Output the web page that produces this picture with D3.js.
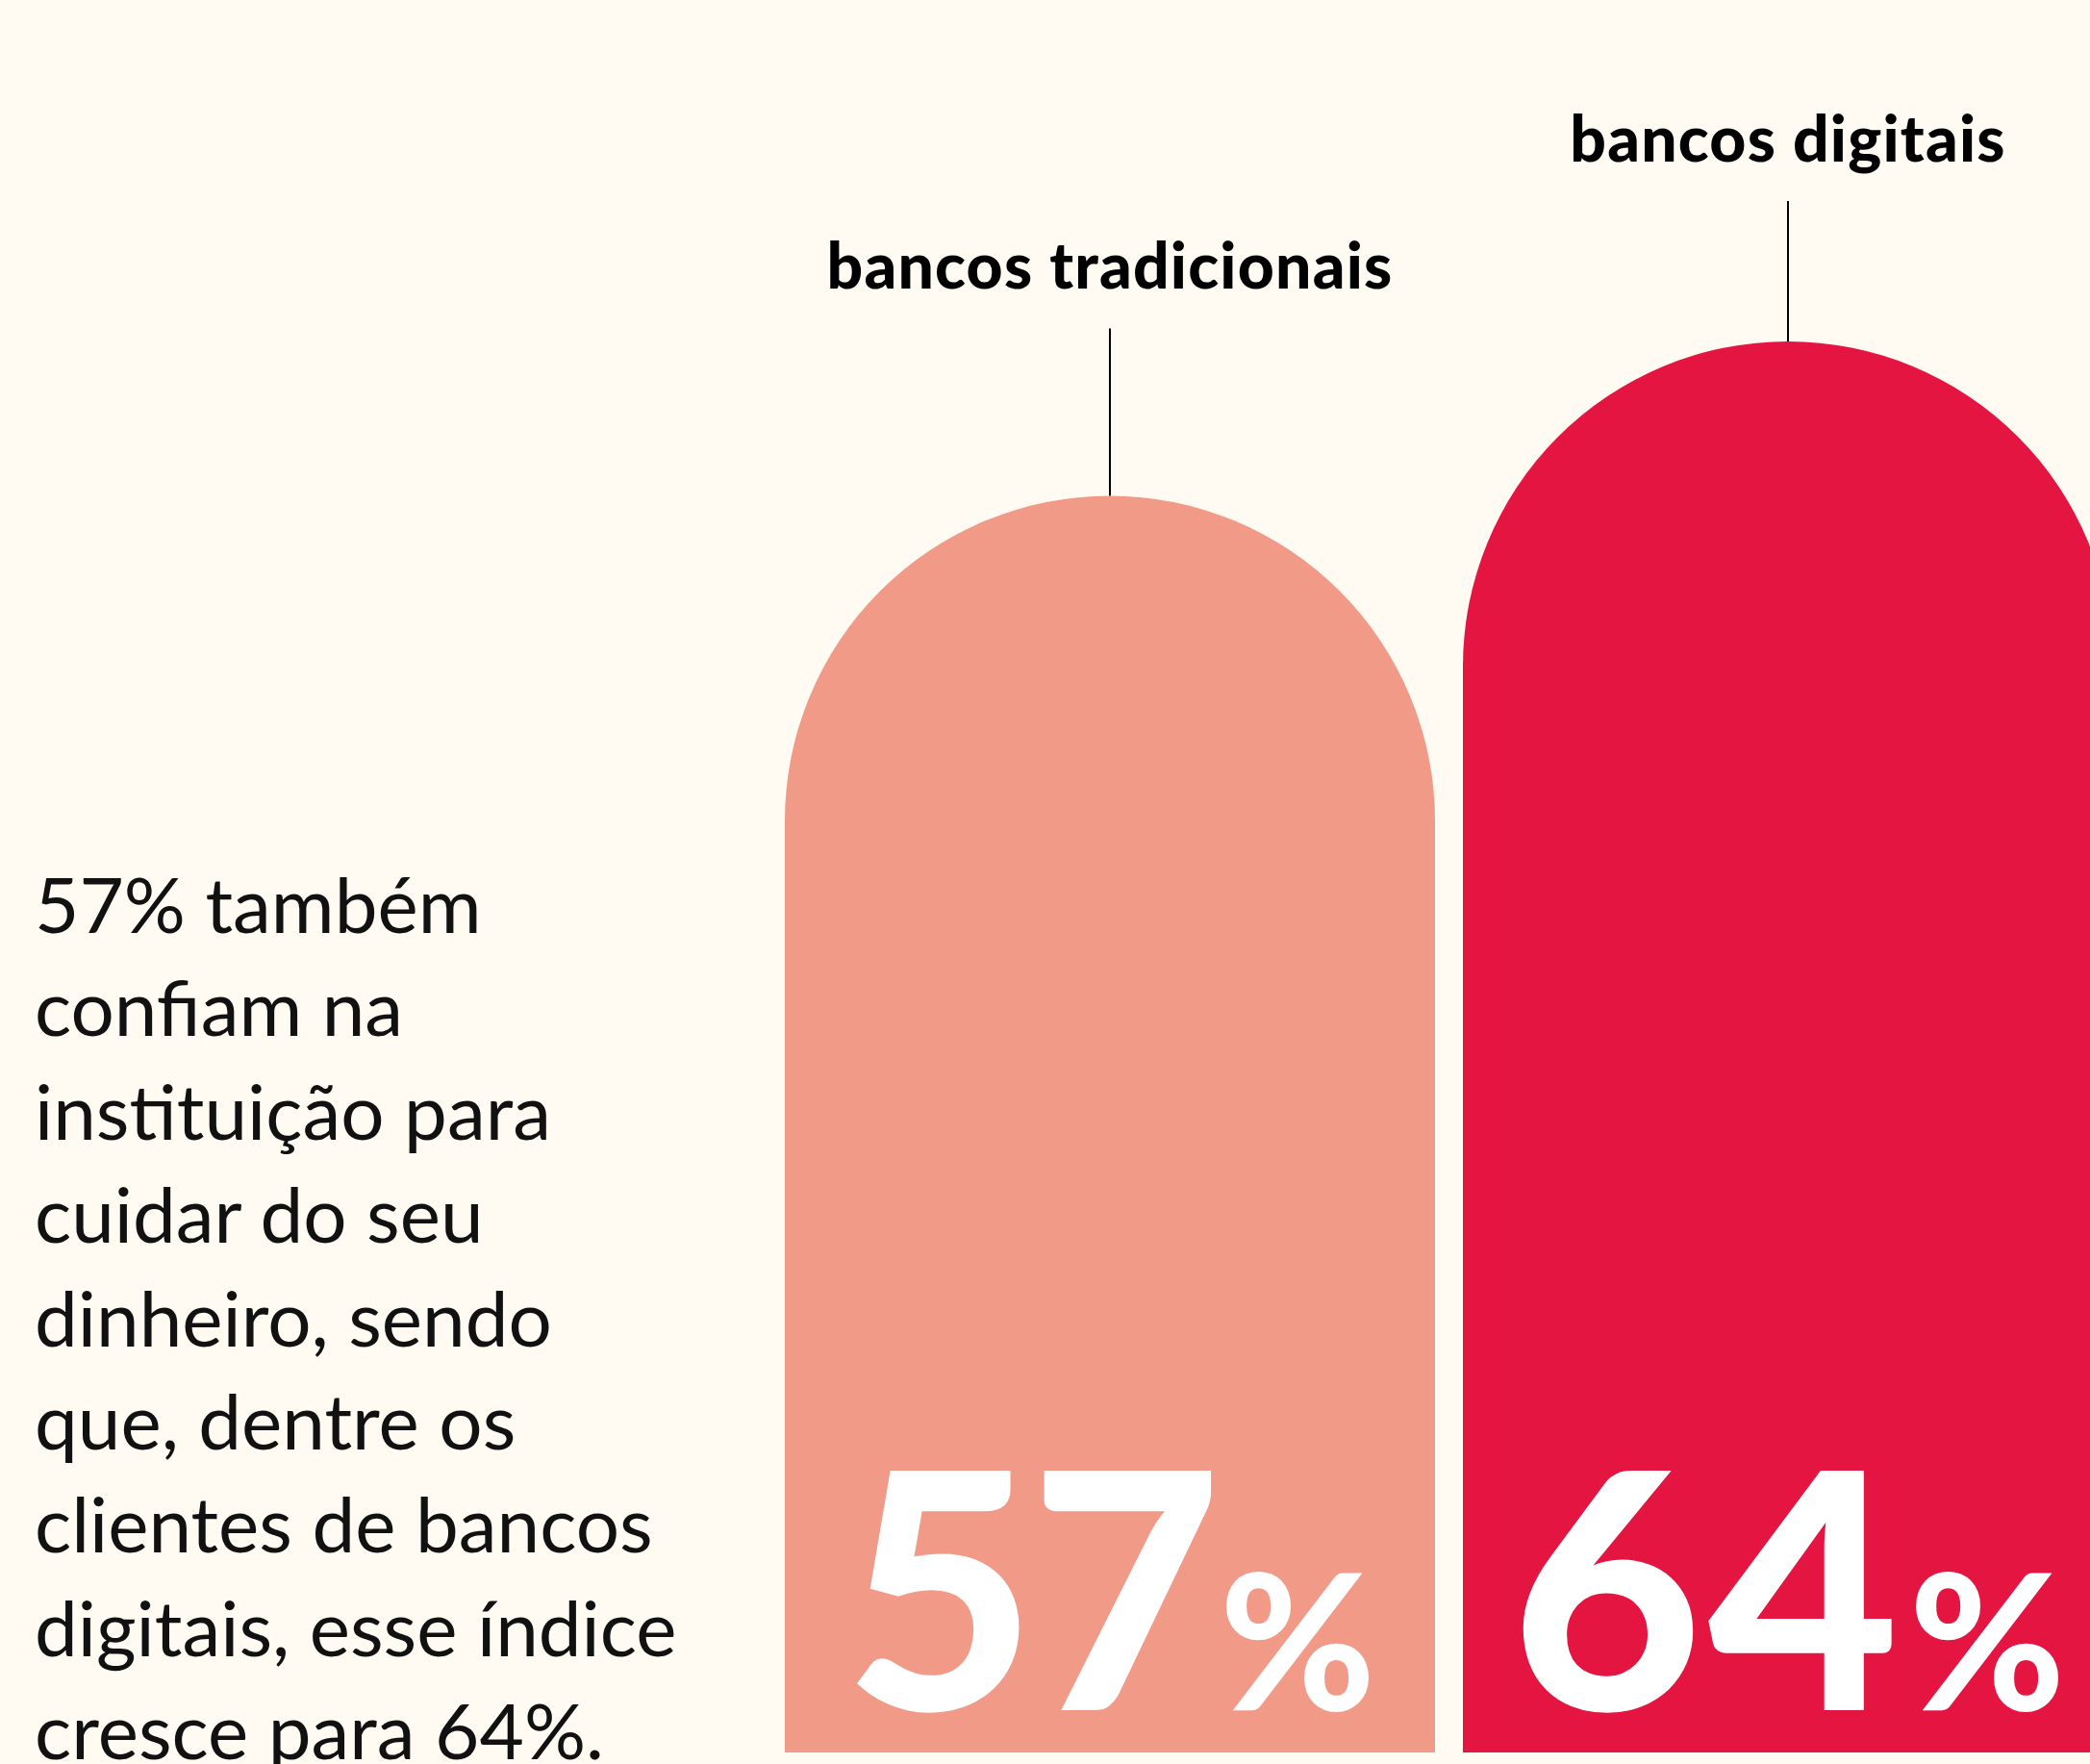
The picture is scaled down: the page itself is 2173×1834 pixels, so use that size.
<!DOCTYPE html>
<html>
<head>
<meta charset="utf-8">
<script src="https://cdn.jsdelivr.net/npm/d3@7"></script>
<style>
  html, body { margin: 0; padding: 0; background: #FFFBF3; }
  svg { display: block; }
</style>
</head>
<body>
<div id="chart"></div>
<script>
const categories = ['bancos tradicionais', 'bancos digitais'];
const values = [57, 64];
const barColors = ['#F19A87', '#E41541'];
const bodyLines = [
  '57% também',
  'confiam na',
  'instituição para',
  'cuidar do seu',
  'dinheiro, sendo',
  'que, dentre os',
  'clientes de bancos',
  'digitais, esse índice',
  'cresce para 64%.'
];

const width = 2173;
const height = 1834;
const bottom = 1822;
const leaderLength = [174, 146];

const svg = d3.select('#chart').append('svg')
  .attr('width', width)
  .attr('height', height);

svg.append('rect')
  .attr('width', width)
  .attr('height', height)
  .attr('fill', '#FFFBF3');

const x = d3.scaleBand()
  .domain(categories)
  .range([816, 2197])
  .paddingInner(0.0411);

const y = d3.scaleLinear()
  .domain([0, d3.max(values)])
  .range([bottom, 355]);

const data = categories.map((c, i) => ({ name: c, value: values[i], color: barColors[i], lead: leaderLength[i] }));

// arch shaped bars: semicircle on top of a rectangle
function arch(d) {
  const x0 = x(d.name), w = x.bandwidth(), r = w / 2, top = y(d.value);
  return `M${x0},${bottom}V${top + r}A${r},${r} 0 0 1 ${x0 + w},${top + r}V${bottom}Z`;
}

const bar = svg.append('g')
  .selectAll('g')
  .data(data)
  .enter().append('g');

bar.append('path')
  .attr('d', arch)
  .attr('fill', d => d.color);

bar.append('line')
  .attr('x1', d => x(d.name) + x.bandwidth() / 2)
  .attr('x2', d => x(d.name) + x.bandwidth() / 2)
  .attr('y1', d => y(d.value))
  .attr('y2', d => y(d.value) - d.lead)
  .attr('stroke', '#000')
  .attr('stroke-width', 2);

bar.append('text')
  .attr('x', d => x(d.name) + x.bandwidth() / 2)
  .attr('y', d => y(d.value) - d.lead - 41)
  .attr('text-anchor', 'middle')
  .attr('font-family', 'Lato')
  .attr('font-weight', 900)
  .attr('font-size', 66)
  .attr('letter-spacing', 1.2)
  .attr('fill', '#000')
  .text(d => d.name);

const num = bar.append('text')
  .attr('x', d => x(d.name) + x.bandwidth() / 2)
  .attr('y', 1778)
  .attr('text-anchor', 'middle')
  .attr('font-family', 'Lato')
  .attr('font-weight', 900)
  .attr('fill', '#fff');

num.append('tspan')
  .attr('font-size', 343)
  .attr('letter-spacing', d => d.value === 64 ? 6 : -6)
  .text(d => d.value);

num.append('tspan')
  .attr('font-size', 196)
  .attr('dx', 4)
  .text('%');

svg.append('g')
  .selectAll('text')
  .data(bodyLines)
  .enter().append('text')
  .attr('x', 36)
  .attr('y', (d, i) => 970 + i * 107.4)
  .attr('font-family', 'Lato')
  .attr('font-weight', 400)
  .attr('font-size', 80)
  .attr('fill', '#111')
  .text(d => d);
</script>
</body>
</html>
